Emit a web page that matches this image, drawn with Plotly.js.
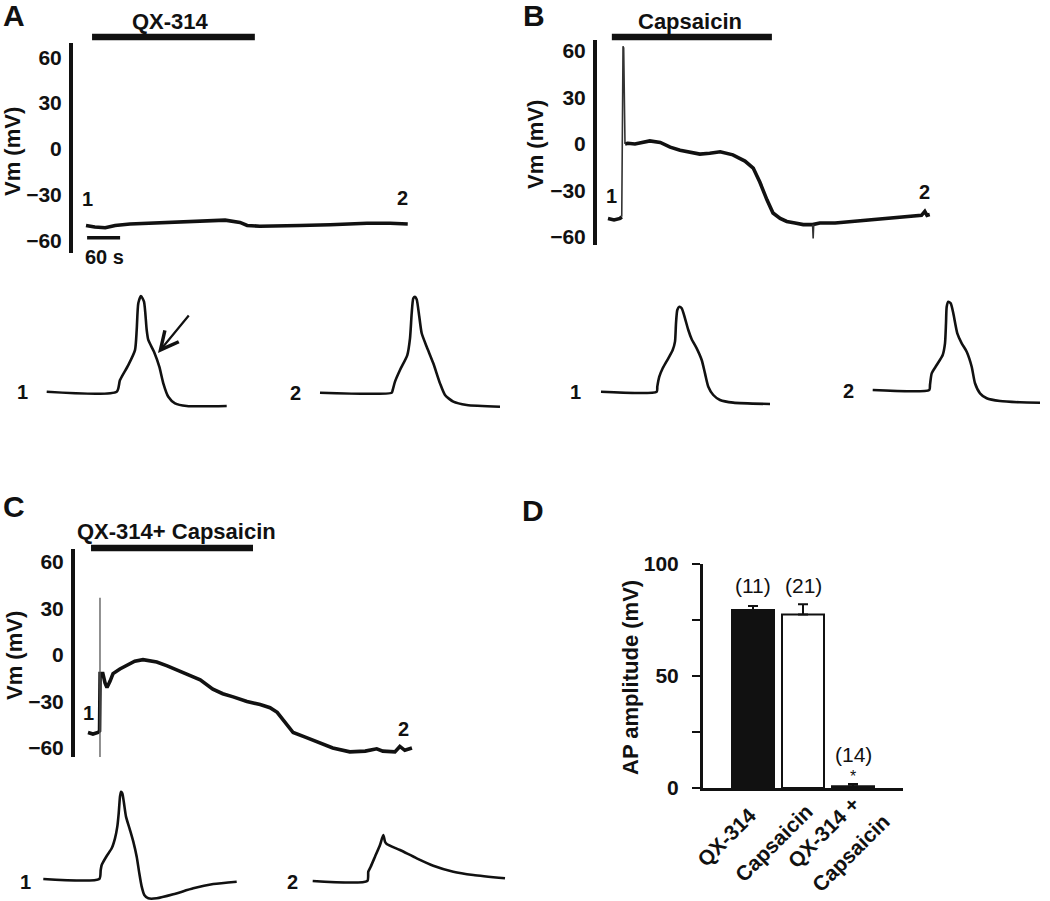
<!DOCTYPE html>
<html>
<head>
<meta charset="utf-8">
<script src="https://cdn.plot.ly/plotly-3.0.1.min.js"></script>
<style>html,body{margin:0;padding:0;background:#fff;}#chart{width:1050px;height:901px;}</style>
</head>
<body>
<div id="chart"></div>
<script>
// ---------------- DATA ----------------
// Panel A: QX-314 alone (time s, Vm mV)
const tA = [0, 16, 35, 53, 80, 116, 147, 189, 231, 253, 280, 293, 316, 353, 389, 444, 511, 553, 585];
const vA = [-50, -51, -51.5, -50, -49, -48.5, -48, -47.5, -46.5, -46.5, -48, -50, -50.5, -50.5, -50, -49.5, -48.5, -48.5, -49];
const drugA = [11, 307];
const scaleBarA = [2, 62];      // 60 s
const scaleBarAmV = -58;

// Panel B: capsaicin alone
const tB = [0, 11, 22, 25, null, 31, 36, 49, 76, 95, 113, 131, 149, 167, 185, 204, 227, 249, 264, 276, 289, 300, 313, 325, 340, 355, 372, 385, 413, 445, 476, 507, 531, 558, 570, 576, 580, 585];
const vB = [-48, -49, -48, -47, null, 0, 0.5, 0, 2, 1, -2, -4, -5.5, -6.5, -6, -5, -7, -11, -15.5, -24.5, -36, -44.5, -48, -50, -51, -52, -52, -51, -51, -50, -49.5, -48, -47.5, -46.5, -46, -43.5, -46, -45.5];
const spikeBt = [25, 27.3, 28.5, 30.9, null, 372, 373, 374];
const spikeBv = [-47, 63, 62, 0, null, -52, -61, -52];
const drugB = [7, 298];

// Panel C: QX-314 + capsaicin
const tC = [0, 9, 18, 21, 22, 27, 31, 34.5, 40, 45.5, 58, 71, 85, 100, 113, 125, 144, 162, 182, 204, 227, 245, 264, 289, 313, 331, 344, 355, 364, 373, 395, 416, 445, 476, 504, 525, 536, 558, 567, 576, 589];
const vC = [-50, -51, -50, -49, -12, -12, -18, -21, -17, -12, -9, -6.5, -4, -3, -3.5, -4.5, -7, -9.7, -13, -16, -22, -25, -27, -30, -32, -34, -37, -42, -46, -50, -53, -56, -60, -62.5, -62, -60.5, -62, -62.5, -59, -61.5, -60];
const spikeCt = [21.8, 21.8];
const spikeCv = [37, -66];
const drugC = [5.5, 300];

// Action potential insets (time ms, Vm mV)
const apA1t = [0, 7.0, 7.33, 8.16, 8.83, 9.0, 9.16, 9.43, 9.73, 10.0, 10.16, 10.73, 11.26, 11.66, 12.16, 12.83, 14.0, 18.0];
const apA1v = [-50, -50, -40.3, -27.8, -15.3, 1.4, 23.7, 29.75, 25, 1.4, -6.9, -16.7, -29.2, -43, -54.2, -59.7, -61.9, -61.9];
const apA2t = [0, 7.17, 7.27, 7.5, 8.0, 8.73, 9.0, 9.17, 9.33, 9.5, 9.67, 9.93, 10.17, 10.67, 11.33, 12.0, 12.5, 13.33, 14.67, 18.0];
const apA2v = [-50, -50, -47.75, -40.8, -31.1, -18.6, -4.7, 16.2, 28.7, 30, 27.8, 13.3, -0.5, -11.7, -25.5, -42.2, -51.9, -57.5, -60.25, -61.7];
const apB1t = [0, 5.57, 5.63, 5.83, 6.17, 6.73, 7.17, 7.4, 7.5, 7.63, 7.83, 8.07, 8.4, 8.73, 9.07, 9.57, 10.07, 10.4, 10.73, 11.23, 11.9, 13.23, 16.9];
const apB1v = [-50, -50, -45.8, -37.5, -30.5, -22.2, -15.25, -8.3, 7, 18.1, 20.8, 19.5, 11.1, 1.4, -6.3, -13.9, -23.6, -34.75, -45.8, -52.75, -56.9, -59.1, -60.25];
const apB2t = [0, 5.66, 5.73, 5.9, 6.4, 7.0, 7.23, 7.33, 7.4, 7.56, 7.8, 8.06, 8.46, 8.9, 9.4, 9.9, 10.23, 10.73, 11.4, 12.73, 14.73, 16.73];
const apB2v = [-50, -50, -45.8, -36.1, -29.2, -20.8, -11.1, 5.6, 19.4, 23.6, 22.2, 13.9, -2.8, -11.1, -18.1, -30.6, -44.4, -52.75, -56.9, -59.2, -60.25, -60.6];
const apC1t = [0, 5.6, 5.74, 5.84, 6.34, 6.84, 7.17, 7.4, 7.54, 7.67, 7.77, 7.9, 8.07, 8.27, 8.67, 9.0, 9.34, 9.6, 9.84, 10.1, 10.5, 11.34, 13.0, 15.0, 17.0, 19.34];
const apC1v = [-50, -50, -42.5, -38.3, -30.8, -24.4, -16.1, -6.4, 4.75, 18.6, 22.75, 21.4, 13.1, 2, -9.2, -18.9, -31.4, -45.2, -56.4, -63.3, -66.1, -66.1, -62.75, -57.75, -54.2, -52.25];
const apC2t = [0, 5.46, 5.56, 5.8, 6.23, 6.73, 7.06, 7.23, 7.4, 8.73, 10.4, 12.06, 14.06, 16.06, 19.23];
const apC2v = [-50, -50, -42.25, -38.1, -29.75, -20, -11.7, -17.25, -19.2, -24.2, -31.1, -37.25, -42.25, -45, -47.75];

// Panel D: AP amplitude summary
const groups = ['QX-314', 'Capsaicin', 'QX-314 +\nCapsaicin'];
const apMean = [79.5, 77.5, 0.8];
const apSem = [1.7, 4.5, 1.0];
const nCells = ['(11)', '(21)', '(14)'];

// ---------------- LAYOUT HELPERS ----------------
const W = 1050, H = 901;
const FONT = 'Liberation Sans, Arial, Helvetica, sans-serif';
const BLACK = '#111111';
const fx = p => p / W;
const fy = p => 1 - p / H;
const PX_PER_S = 0.55;

function mainAxes(cfg) {
  const xa = {
    domain: [fx(cfg.left), fx(cfg.right)],
    range: [(cfg.left - cfg.t0px) / PX_PER_S, (cfg.right - cfg.t0px) / PX_PER_S],
    visible: false, fixedrange: true, anchor: cfg.ya
  };
  const ya = {
    domain: [fy(cfg.bottom), fy(cfg.top)],
    range: [(cfg.zeroPx - cfg.bottom) / cfg.pxPerMV, (cfg.zeroPx - cfg.top) / cfg.pxPerMV],
    anchor: cfg.xa, showline: true, linewidth: 4, linecolor: BLACK,
    ticks: '', tickvals: [-60, -30, 0, 30, 60], ticklabelstandoff: 3,
    tickfont: {family: FONT, size: 21, weight: 700, color: BLACK},
    showgrid: false, zeroline: false, fixedrange: true
  };
  return [xa, ya];
}
const cfgA = {left: 73, right: 420, top: 43, bottom: 253, t0px: 86, zeroPx: 149, pxPerMV: 1.53, xa: 'x', ya: 'y'};
const cfgB = {left: 597, right: 945, top: 40, bottom: 245, t0px: 608, zeroPx: 144, pxPerMV: 1.55, xa: 'x2', ya: 'y2'};
const cfgC = {left: 75, right: 420, top: 549, bottom: 757, t0px: 88, zeroPx: 655, pxPerMV: 1.55, xa: 'x3', ya: 'y3'};

const INSET_PX_MS = 10, INSET_PX_MV = 1.2;
function insetAxes(ox, oy, xa, ya) {
  const l = ox - 20, r = Math.min(ox + 240, W - 1);
  const t = oy - 130, b = Math.min(oy + 30, H - 1);
  return [
    {domain: [fx(l), fx(r)], range: [(l - ox) / INSET_PX_MS, (r - ox) / INSET_PX_MS], visible: false, fixedrange: true, anchor: ya},
    {domain: [fy(b), fy(t)], range: [-50 - (b - oy) / INSET_PX_MV, -50 + (oy - t) / INSET_PX_MV], visible: false, fixedrange: true, anchor: xa}
  ];
}
const insets = [
  {ox: 46.7, oy: 391.7, t: apA1t, v: apA1v, lab: '1', lx: 22, ly: 392},
  {ox: 320, oy: 392.7, t: apA2t, v: apA2v, lab: '2', lx: 295, ly: 393},
  {ox: 601, oy: 391.7, t: apB1t, v: apB1v, lab: '1', lx: 575, ly: 392},
  {ox: 872.7, oy: 390, t: apB2t, v: apB2v, lab: '2', lx: 848, ly: 391},
  {ox: 43.3, oy: 879, t: apC1t, v: apC1v, lab: '1', lx: 25, ly: 882},
  {ox: 312.7, oy: 881, t: apC2t, v: apC2v, lab: '2', lx: 292, ly: 882}
];

const layout = {
  width: W, height: H,
  margin: {l: 0, r: 0, t: 0, b: 0},
  paper_bgcolor: '#ffffff', plot_bgcolor: 'rgba(0,0,0,0)',
  showlegend: false,
  font: {family: FONT, color: BLACK, size: 20},
  shapes: [], annotations: []
};
[[cfgA, 'xaxis', 'yaxis'], [cfgB, 'xaxis2', 'yaxis2'], [cfgC, 'xaxis3', 'yaxis3']].forEach(([c, xn, yn]) => {
  const [xa, ya] = mainAxes(c);
  layout[xn] = xa; layout[yn] = ya;
});

const traces = [];
const mainLine = {color: BLACK, width: 3.6};
traces.push({x: tA, y: vA, xaxis: 'x', yaxis: 'y', type: 'scatter', mode: 'lines', line: mainLine, hoverinfo: 'skip'});
traces.push({x: tB, y: vB, xaxis: 'x2', yaxis: 'y2', type: 'scatter', mode: 'lines', line: mainLine, hoverinfo: 'skip', connectgaps: false});
traces.push({x: spikeBt, y: spikeBv, xaxis: 'x2', yaxis: 'y2', type: 'scatter', mode: 'lines', line: {color: '#333', width: 1.6}, hoverinfo: 'skip', connectgaps: false});
traces.push({x: tC, y: vC, xaxis: 'x3', yaxis: 'y3', type: 'scatter', mode: 'lines', line: mainLine, hoverinfo: 'skip'});
traces.push({x: spikeCt, y: spikeCv, xaxis: 'x3', yaxis: 'y3', type: 'scatter', mode: 'lines', line: {color: '#555', width: 1.3}, hoverinfo: 'skip'});

insets.forEach((ins, i) => {
  const n = i + 5;
  const [xa, ya] = insetAxes(ins.ox, ins.oy, 'x' + n, 'y' + n);
  xa.anchor = 'y' + n; ya.anchor = 'x' + n;
  layout['xaxis' + n] = xa; layout['yaxis' + n] = ya;
  traces.push({x: ins.t, y: ins.v, xaxis: 'x' + n, yaxis: 'y' + n, type: 'scatter', mode: 'lines',
    line: {color: BLACK, width: 2.6, shape: 'spline', smoothing: 0.6}, hoverinfo: 'skip'});
  layout.annotations.push({xref: 'paper', yref: 'paper', x: fx(ins.lx), y: fy(ins.ly), text: ins.lab, showarrow: false,
    font: {family: FONT, size: 20, weight: 700, color: BLACK}, xanchor: 'center', yanchor: 'middle'});
});

// Arrow in inset A1
layout.annotations.push({xref: 'x5', yref: 'y5', x: 11.13, y: -17.7, ax: 32, ay: -39, text: '', showarrow: true,
  arrowhead: 5, arrowsize: 1.6, arrowwidth: 2.2, arrowcolor: BLACK, standoff: 0});

// Panel D axes
layout.xaxis4 = {domain: [fx(703), fx(903)], range: [-1, 3], anchor: 'y4', showline: true, linewidth: 3, linecolor: BLACK,
  ticks: '', tickvals: [0, 1, 2], showticklabels: false, showgrid: false, zeroline: false, fixedrange: true};
layout.yaxis4 = {domain: [fy(788), fy(564)], range: [0, 100], anchor: 'x4', showline: true, linewidth: 3, linecolor: BLACK,
  ticks: 'outside', ticklen: 8, tickwidth: 2, tickcolor: BLACK, tickvals: [0, 25, 50, 75, 100], ticktext: ['0', '', '50', '', '100'],
  ticklabelstandoff: 9, tickfont: {family: FONT, size: 21, weight: 700, color: BLACK}, showgrid: false, zeroline: false, fixedrange: true};
traces.push({type: 'bar', x: [0, 1, 2], y: apMean, xaxis: 'x4', yaxis: 'y4', width: 0.84,
  marker: {color: [BLACK, '#ffffff', BLACK], line: {color: BLACK, width: 2}},
  error_y: {type: 'data', symmetric: false, array: apSem, arrayminus: [0, 0, 0], color: BLACK, thickness: 2, width: 5},
  hoverinfo: 'skip', cliponaxis: false});

// Rotated category labels (each line placed separately)
const catLines = [];
groups.forEach((g, i) => g.split('\n').forEach((line, j) => catLines.push({i, j, line})));
const catCenters = [[-27, 837], [-30, 843], [-30, 832], [-3, 853]]; // [xshift px from bar, centre y px]
catLines.forEach((c, k) => {
  layout.annotations.push({xref: 'x4', yref: 'paper', x: c.i, xshift: catCenters[k][0], y: fy(catCenters[k][1]),
    text: c.line, textangle: -45, showarrow: false, font: {family: FONT, size: 21, weight: 700, color: BLACK},
    xanchor: 'center', yanchor: 'middle'});
});

nCells.forEach((t, i) => {
  layout.annotations.push({xref: 'x4', yref: 'y4', x: i, y: i < 2 ? 90.6 : 15, text: t, showarrow: false,
    font: {family: FONT, size: 21, color: BLACK}, xanchor: 'center', yanchor: 'middle'});
});
layout.annotations.push({xref: 'x4', yref: 'y4', x: 2, y: 5, text: '*', showarrow: false,
  font: {family: FONT, size: 16, color: BLACK}, xanchor: 'center', yanchor: 'middle'});

// Drug bars and labels
[[drugA, 'x', 37], [drugB, 'x2', 37], [drugC, 'x3', 548]].forEach(([d, xr, py]) => {
  layout.shapes.push({type: 'line', xref: xr, yref: 'paper', x0: d[0], x1: d[1], y0: fy(py), y1: fy(py),
    line: {color: BLACK, width: 6.5}});
});
const drugLabels = [
  {text: 'QX-314', x: 170, y: 22},
  {text: 'Capsaicin', x: 690, y: 21},
  {text: 'QX-314+ Capsaicin', x: 176, y: 531}
];
drugLabels.forEach(l => layout.annotations.push({xref: 'paper', yref: 'paper', x: fx(l.x), y: fy(l.y), text: l.text,
  showarrow: false, font: {family: FONT, size: 22, weight: 700, color: BLACK}, xanchor: 'center', yanchor: 'middle'}));

// Scale bar in A
layout.shapes.push({type: 'line', xref: 'x', yref: 'y', x0: scaleBarA[0], x1: scaleBarA[1], y0: scaleBarAmV, y1: scaleBarAmV,
  line: {color: BLACK, width: 3.5}});
layout.annotations.push({xref: 'paper', yref: 'paper', x: fx(104), y: fy(257), text: '60 s', showarrow: false,
  font: {family: FONT, size: 20, weight: 700, color: BLACK}, xanchor: 'center', yanchor: 'middle'});

// Trace markers "1" / "2"
[['x', 'y', 3.6, -33, '1'], ['x', 'y', 576, -32, '2'], ['x2', 'y2', 7, -33.5, '1'], ['x2', 'y2', 576, -31, '2'],
 ['x3', 'y3', 0, -37.4, '1'], ['x3', 'y3', 573, -48, '2']].forEach(([xr, yr, x, y, t]) => {
  layout.annotations.push({xref: xr, yref: yr, x: x, y: y, text: t, showarrow: false,
    font: {family: FONT, size: 20, weight: 700, color: BLACK}, xanchor: 'center', yanchor: 'middle'});
});

// Axis titles (rotated)
[[13, 152, 'Vm (mV)'], [536, 145, 'Vm (mV)'], [14, 656, 'Vm (mV)'], [630, 678, 'AP amplitude (mV)']].forEach(([x, y, t]) => {
  layout.annotations.push({xref: 'paper', yref: 'paper', x: fx(x), y: fy(y), text: t, textangle: -90, showarrow: false,
    font: {family: FONT, size: 22, weight: 700, color: BLACK}, xanchor: 'center', yanchor: 'middle'});
});

// Panel letters
[[14, 16, 'A'], [534, 16, 'B'], [14, 506, 'C'], [533, 510, 'D']].forEach(([x, y, t]) => {
  layout.annotations.push({xref: 'paper', yref: 'paper', x: fx(x), y: fy(y), text: t, showarrow: false,
    font: {family: FONT, size: 30, weight: 700, color: BLACK}, xanchor: 'center', yanchor: 'middle'});
});

Plotly.newPlot('chart', traces, layout, {staticPlot: true, displayModeBar: false});
</script>
</body>
</html>
